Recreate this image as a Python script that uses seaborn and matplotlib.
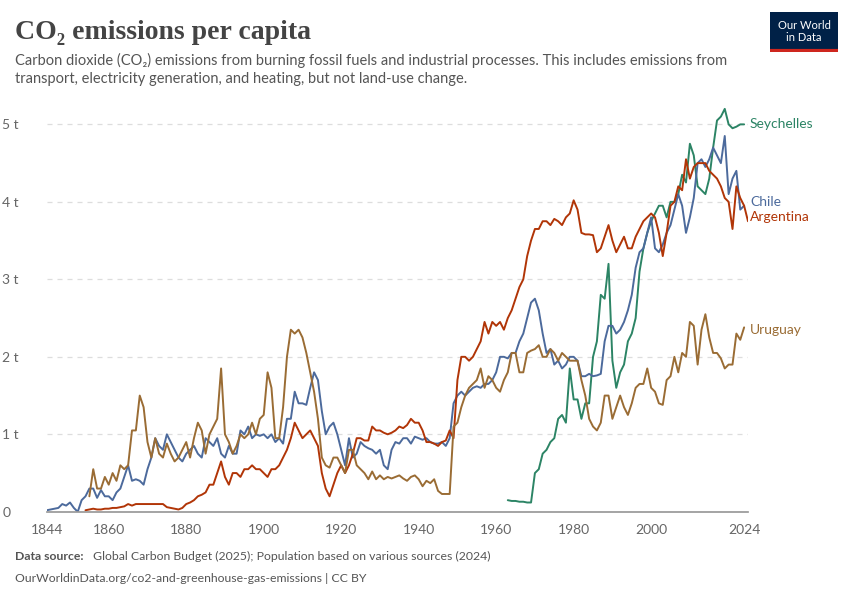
import matplotlib
matplotlib.use("Agg")
import matplotlib.pyplot as plt
import seaborn as sns
import pandas as pd

chile_start = 1844
chile = [0.02,0.03,0.04,0.05,0.1,0.08,0.12,0.05,0.0,0.15,0.2,0.3,0.3,0.18,0.28,0.2,
         0.2,0.15,0.25,0.3,0.45,0.6,0.4,0.42,0.4,0.35,0.55,0.7,0.95,0.85,0.8,1.0,0.9,0.8,0.7,0.65,
         0.75,0.8,0.85,0.75,0.7,0.95,0.9,0.85,0.95,0.75,0.7,0.85,0.75,0.75,1.05,1.0,1.1,0.95,1.0,0.98,
         1.0,0.95,1.0,0.9,0.95,0.88,1.2,1.2,1.55,1.4,1.4,1.38,1.6,1.8,1.7,1.3,1.0,1.1,1.15,1.0,
         0.8,0.6,0.95,0.7,0.75,0.9,0.85,0.82,0.8,0.75,0.8,0.6,0.55,0.8,0.9,0.88,0.95,0.95,0.88,0.97,
         0.95,0.93,0.95,0.9,0.88,0.88,0.9,0.85,0.95,1.4,1.5,1.55,1.5,1.55,1.6,1.62,1.6,1.65,1.65,1.7,
         1.8,2.0,2.0,1.98,2.05,2.05,2.2,2.3,2.5,2.7,2.75,2.6,2.3,2.05,2.1,1.9,1.95,1.85,1.9,2.0,
         2.0,1.95,1.75,1.75,1.78,1.75,1.76,1.78,2.2,2.4,2.4,2.3,2.35,2.45,2.6,2.8,3.15,3.35,3.4,3.6,
         3.8,3.4,3.35,3.45,3.6,3.7,3.9,4.1,3.95,3.6,3.8,4.05,4.5,4.55,4.45,4.55,4.7,4.6,4.5,4.85,
         4.1,4.3,4.4,3.9,3.95]
arg_start = 1854
argentina = [0.02,0.03,0.04,0.03,0.03,0.04,0.04,0.05,0.05,0.06,0.07,0.1,0.08,0.1,0.1,0.1,0.1,0.1,0.1,0.1,0.1,
             0.06,0.05,0.04,0.03,0.05,0.1,0.12,0.15,0.2,0.22,0.25,0.35,0.35,0.5,0.65,0.45,
             0.35,0.5,0.5,0.45,0.55,0.55,0.6,0.55,0.55,0.5,
             0.45,0.55,0.55,0.6,0.7,0.8,0.95,1.15,1.05,0.95,
             1.0,1.05,0.95,0.85,0.5,0.3,0.2,0.35,0.5,0.6,
             0.5,0.6,0.75,0.95,0.95,0.92,0.92,1.1,1.05,1.05,
             1.02,1.0,1.02,1.05,1.1,1.08,1.12,1.2,1.15,1.15,
             1.05,0.9,0.9,0.88,0.85,0.9,0.92,1.05,0.95,1.7,
             2.0,2.0,1.95,2.0,2.1,2.2,2.45,2.3,2.45,2.4,
             2.45,2.35,2.5,2.6,2.75,2.9,3.0,3.3,3.5,3.65,
             3.65,3.75,3.75,3.7,3.78,3.75,3.7,3.8,3.85,4.02,
             3.9,3.6,3.58,3.58,3.57,3.35,3.4,3.55,3.7,3.5,
             3.35,3.45,3.55,3.4,3.4,3.55,3.65,3.75,3.8,3.85,
             3.8,3.6,3.3,3.6,3.95,4.0,4.2,4.15,4.55,4.3,
             4.45,4.5,4.5,4.5,4.4,4.35,4.3,4.2,4.05,4.0,
             3.65,4.2,4.05,3.95,3.75]
uru_start = 1855
uruguay = [0.2,0.55,0.3,0.3,0.45,0.35,0.5,0.4,0.6,0.55,0.6,1.05,1.05,1.5,1.35,
           0.9,0.7,0.95,0.75,0.7,0.88,0.75,0.65,0.7,0.8,
           0.9,0.7,0.95,1.15,1.05,0.75,1.0,1.1,1.2,1.85,
           1.0,0.9,0.75,0.85,1.0,0.95,1.0,1.15,1.0,1.2,
           1.25,1.8,1.6,0.95,0.95,1.35,2.0,2.35,2.3,2.35,
           2.25,2.05,1.8,1.55,1.2,0.7,0.6,0.57,0.7,0.7,
           0.6,0.5,0.8,0.8,0.6,0.55,0.5,0.42,0.52,0.42,
           0.47,0.42,0.45,0.43,0.45,0.47,0.43,0.4,0.45,0.47,
           0.42,0.33,0.4,0.37,0.42,0.27,0.23,0.23,0.23,1.1,
           1.15,1.35,1.5,1.6,1.65,1.7,1.85,1.6,1.75,1.7,
           1.6,1.55,1.7,1.8,2.05,2.05,1.8,1.8,2.05,2.08,
           2.1,2.15,2.0,2.0,2.1,2.05,1.95,2.05,2.0,1.95,
           1.95,1.95,1.7,1.5,1.2,1.1,1.05,1.15,1.5,1.5,
           1.2,1.35,1.5,1.35,1.25,1.4,1.6,1.65,1.65,1.85,
           1.6,1.55,1.4,1.38,1.7,1.75,2.0,1.8,2.05,2.0,
           2.45,2.4,1.9,2.35,2.55,2.25,2.05,2.05,1.98,1.85,
           1.9,1.9,2.3,2.22,2.38]
sey_start = 1963
seychelles = [0.15,0.14,0.14,0.13,0.13,0.12,0.12,
              0.5,0.55,0.75,0.8,0.9,0.95,1.2,1.25,1.15,1.85,
              1.45,1.45,1.2,1.4,1.4,2.0,2.2,2.8,2.75,3.2,
              1.95,1.6,1.8,1.9,2.2,2.3,2.5,3.1,3.4,3.6,
              3.75,3.85,3.95,3.95,3.8,4.0,4.0,4.1,4.35,4.25,
              4.75,4.6,4.2,4.15,4.1,4.3,4.7,5.05,5.1,5.2,
              5.0,4.95,4.97,5.0,5.0]

series = [("Seychelles", sey_start, seychelles, "#2c8465"),
          ("Chile", chile_start, chile, "#4c6a9c"),
          ("Argentina", arg_start, argentina, "#b13507"),
          ("Uruguay", uru_start, uruguay, "#9a6c34")]
rows = []
for name, s, vals, c in series:
    for i, v in enumerate(vals):
        rows.append({"country": name, "year": s + i, "value": v})
df = pd.DataFrame(rows)

sns.set_theme(style="white")
plt.rcParams['font.family'] = ['Lato', 'DejaVu Sans']
fig = plt.figure(figsize=(8.5, 6), dpi=100)
ax = fig.add_axes([0.055, 0.147, 0.825, 0.678])
palette = {n: c for n, s, v, c in series}
sns.lineplot(data=df, x="year", y="value", hue="country", palette=palette,
             ax=ax, legend=False, linewidth=1.4)
ax.set_xlim(1844, 2025)
ax.set_ylim(0, 5.25)
ax.set_xticks([1844, 1860, 1880, 1900, 1920, 1940, 1960, 1980, 2000, 2024])
ax.set_yticks([0, 1, 2, 3, 4, 5])
ax.set_yticklabels(["0", "1 t", "2 t", "3 t", "4 t", "5 t"])
ax.set_xlabel(""); ax.set_ylabel("")
ax.tick_params(axis='both', colors="#666666", labelsize=10, length=0)
ax.tick_params(axis='x', length=5, color="#999999")
ax.grid(axis='y', color="#dddddd", linestyle=(0, (4, 4)), linewidth=0.9)
for sp in ["top", "right", "left"]:
    ax.spines[sp].set_visible(False)
ax.spines["bottom"].set_color("#999999")
for tl in ax.get_yticklabels():
    tl.set_horizontalalignment("left")
ax.yaxis.set_tick_params(pad=32)

labely = {"Seychelles": 5.0, "Chile": 4.0, "Argentina": 3.8, "Uruguay": 2.35}
for name, s, vals, c in series:
    ax.text(2025.5, labely[name], name, color=c, fontsize=10, va="center")

fig.text(0.018, 0.935, "CO₂ emissions per capita", fontsize=20, color="#444444",
         family=["Liberation Serif", "DejaVu Serif"], fontweight="bold")
fig.text(0.018, 0.862, "Carbon dioxide (CO₂) emissions from burning fossil fuels and industrial processes. This includes emissions from\ntransport, electricity generation, and heating, but not land-use change.",
         fontsize=10.5, color="#555555", linespacing=1.35)
fig.text(0.018, 0.067, "Data source:", fontsize=8.8, color="#555555", fontweight="bold")
fig.text(0.109, 0.067, "Global Carbon Budget (2025); Population based on various sources (2024)",
         fontsize=8.8, color="#555555")
fig.text(0.018, 0.03, "OurWorldinData.org/co2-and-greenhouse-gas-emissions | CC BY",
         fontsize=8.8, color="#555555")
logo = fig.add_axes([0.906, 0.913, 0.08, 0.067])
logo.set_facecolor("#002147")
logo.set_xticks([]); logo.set_yticks([])
for sp in logo.spines.values():
    sp.set_visible(False)
logo.text(0.5, 0.52, "Our World\nin Data", color="white", fontsize=8, ha="center", va="center",
          transform=logo.transAxes, linespacing=1.1)
logo.axhline(0.03, color="#ce261e", linewidth=3)
fig.savefig("out.png", dpi=100)
